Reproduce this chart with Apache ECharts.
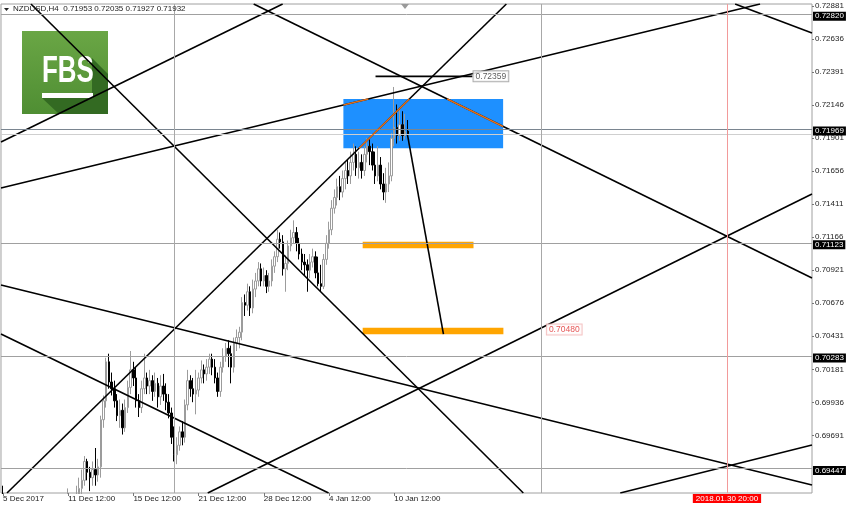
<!DOCTYPE html>
<html><head><meta charset="utf-8">
<script src="https://cdn.jsdelivr.net/npm/echarts@6/dist/echarts.min.js"></script>
<style>html,body{margin:0;padding:0;background:#fff}#c{width:850px;height:508px}</style>
</head><body><div id="c"></div>
<script>
// ---- Candles (H4 bars, index 0 = 5 Dec 2017) ----
const opens = [.6925,.6912,.6905,.6898,.6890,.6884,.6880,.6872,.6868,.6860,.6852,.6858,.6850,.6845,.6852,.6860,.6856,.6864,.6870,.6866,.6875,.6882,.6878,.6890,.6898,.6912,.6918,.6910,.6922,.6930,
.6936,.6950,.6942,.6938,.6944,.6940,.6946,.6981,.6995,.7024,.7009,.7004,.6995,.6984,.6988,.6975,.6990,.7005,.7018,.7012,.6995,.6990,.7004,.7012,.7006,.7010,.7002,.7008,.6998,.7006,
.7000,.6994,.6986,.6968,.6955,.6962,.6972,.6968,.6992,.7010,.7004,.7000,.7003,.7012,.7018,.7015,.7020,.7026,.7020,.7012,.7002,.7020,.7028,.7034,.7030,.7020,.7038,.7042,.7046,.7068,
.7066,.7076,.7064,.7078,.7084,.7093,.7084,.7088,.7080,.7084,.7095,.7102,.7115,.7113,.7093,.7097,.7110,.7116,.7120,.7112,.7104,.7098,.7096,.7092,.7098,.7102,.7090,.7082,.7080,.7100,
.7112,.7122,.7138,.7146,.7154,.7150,.7160,.7166,.7162,.7172,.7178,.7168,.7172,.7166,.7178,.7184,.7180,.7170,.7162,.7170,.7156,.7150,.7156,.7162,.7190,.7198,.7192,.7200,.7192,.71953];
const closes = [.6912,.6905,.6898,.6890,.6884,.6880,.6872,.6868,.6860,.6852,.6858,.6850,.6845,.6852,.6860,.6856,.6864,.6870,.6866,.6875,.6882,.6878,.6890,.6898,.6912,.6918,.6910,.6922,.6930,.6936,
.6950,.6942,.6938,.6944,.6940,.6946,.6981,.6995,.7024,.7009,.7004,.6995,.6984,.6988,.6975,.6990,.7005,.7018,.7012,.6995,.6990,.7004,.7012,.7006,.7010,.7002,.7008,.6998,.7006,.7000,
.6994,.6986,.6968,.6955,.6962,.6972,.6968,.6992,.7010,.7004,.7000,.7003,.7012,.7018,.7015,.7020,.7026,.7020,.7012,.7002,.7020,.7028,.7034,.7030,.7020,.7038,.7042,.7046,.7068,.7066,
.7076,.7064,.7078,.7084,.7093,.7084,.7088,.7080,.7084,.7095,.7102,.7115,.7113,.7093,.7097,.7110,.7116,.7120,.7112,.7104,.7098,.7096,.7092,.7098,.7102,.7090,.7082,.7080,.7100,.7112,
.7122,.7138,.7146,.7154,.7150,.7160,.7166,.7162,.7172,.7178,.7168,.7172,.7166,.7178,.7184,.7180,.7170,.7162,.7170,.7156,.7150,.7156,.7162,.7190,.7198,.7192,.7200,.7192,.7195,.71932];
const lows = [.6905,.6898,.6890,.6884,.6878,.6872,.6866,.6860,.6852,.6845,.6846,.6842,.6838,.6840,.6848,.6850,.6852,.6858,.6860,.6862,.6870,.6872,.6874,.6885,.6894,.6905,.6902,.6906,.6916,.6924,
.6932,.6936,.6928,.6932,.6932,.6935,.6938,.6975,.6990,.7004,.6999,.6990,.6980,.6975,.6970,.6972,.6986,.7000,.7006,.6990,.6983,.6986,.7000,.7000,.7000,.6995,.6998,.6990,.6992,.6995,
.6988,.6982,.6963,.6950,.6948,.6958,.6962,.6964,.6988,.6998,.6994,.6985,.6998,.7008,.7008,.7010,.7015,.7014,.7008,.6998,.6998,.7016,.7024,.7020,.7008,.7016,.7032,.7034,.7040,.7058,
.7062,.7058,.7060,.7072,.7080,.7080,.7080,.7075,.7076,.7080,.7090,.7098,.7108,.7088,.7076,.7092,.7106,.7112,.7106,.7100,.7092,.7088,.7076,.7086,.7094,.7086,.7080,.7076,.7078,.7096,
.7108,.7118,.7134,.7140,.7144,.7146,.7152,.7156,.7156,.7166,.7162,.7160,.7160,.7162,.7172,.7170,.7166,.7156,.7158,.7152,.7144,.7142,.7150,.7158,.7184,.7186,.7188,.7188,.7189,.71927];
const highs = [.6932,.6918,.6910,.6902,.6895,.6890,.6886,.6878,.6874,.6866,.6864,.6862,.6856,.6858,.6866,.6865,.6870,.6876,.6878,.6882,.6888,.6890,.6896,.6908,.6930,.6926,.6922,.6932,.6938,.6944,
.6954,.6952,.6946,.6950,.6960,.6952,.6984,.6999,.7027,.7030,.7016,.7010,.7000,.6996,.6993,.6996,.7010,.7032,.7024,.7020,.7000,.7010,.7030,.7016,.7018,.7014,.7016,.7012,.7014,.7015,
.7008,.7000,.6990,.6976,.6968,.6976,.6980,.6996,.7018,.7014,.7012,.7018,.7016,.7025,.7022,.7026,.7030,.7030,.7026,.7016,.7024,.7034,.7038,.7040,.7036,.7042,.7048,.7050,.7072,.7074,
.7082,.7080,.7085,.7090,.7098,.7097,.7094,.7092,.7090,.7100,.7106,.7122,.7120,.7118,.7103,.7114,.7122,.7129,.7124,.7116,.7108,.7104,.7100,.7104,.7108,.7106,.7102,.7096,.7104,.7118,
.7128,.7144,.7152,.7160,.7162,.7166,.7172,.7174,.7180,.7186,.7184,.7180,.7178,.7184,.7190,.7189,.7186,.7180,.7184,.7176,.7164,.7168,.7172,.7194,.7228,.7215,.7212,.7210,.7208,.72035];

// ---- Axes ----
const xMin = -0.74, xMax = 297.8, yMin = 0.69266, yMax = 0.72896;
const xTickIdx = [0, 24, 48, 72, 96, 120, 144];
const xTickLabels = ['5 Dec 2017', '11 Dec 12:00', '15 Dec 12:00', '21 Dec 12:00', '28 Dec 12:00', '4 Jan 12:00', '10 Jan 12:00'];
const yTicks = [0.72881, 0.72636, 0.72391, 0.72146, 0.71901, 0.71656, 0.71411, 0.71166, 0.70921, 0.70676, 0.70431, 0.70181, 0.69936, 0.69691];

// ---- Drawn objects (bar index, price) ----
const levelPrices = [0.72820, 0.71969, 0.71123, 0.70283, 0.69447];
const bidPrice = 0.71932;
const grayVerticals = [63.2, 198.2];
const redVertical = 266.5;
const redVerticalLabel = '2018.01.30 20:00';
const trendLines = [
  [[92.28, 0.72896], [297.79, 0.70862]],
  [[269.49, 0.72896], [297.79, 0.72681]],
  [[-0.74, 0.71872], [102.94, 0.72896]],
  [[-0.74, 0.71530], [278.68, 0.72896]],
  [[10.29, 0.72896], [191.54, 0.69266]],
  [[1.47, 0.69266], [185.29, 0.72896]],
  [[-0.74, 0.70446], [119.85, 0.69266]],
  [[75.37, 0.69266], [297.79, 0.71486]],
  [[-0.74, 0.70810], [297.79, 0.69325]],
  [[227.21, 0.69266], [297.79, 0.69622]]
];
const invertedLines = [0, 3, 5]; // lines shown orange inside the blue zone
const arrowLine = [[148.90, 0.71924], [162.13, 0.70446]];
const highLine = [[137.13, 0.72359], [172.79, 0.72359]];
const highLabel = [179.6, 0.72359];
const targetLabel = [206.6, 0.70480];
const blueZone = { x: [125.3, 184.1], p: [0.71825, 0.72191] };
const orangeBars = [
  { x: [132.4, 173.2], p: [0.71083, 0.71132] },
  { x: [132.4, 184.2], p: [0.70444, 0.70493] }
];

const candles = opens.map((o, i) => [i, o, closes[i], lows[i], highs[i]]);

function clipSeg(a, b, xr, yr) {
  let t0 = 0, t1 = 1;
  const dx = b[0] - a[0], dy = b[1] - a[1];
  const pq = [[-dx, a[0] - xr[0]], [dx, xr[1] - a[0]], [-dy, a[1] - yr[0]], [dy, yr[1] - a[1]]];
  for (const [p, q] of pq) {
    if (p === 0) { if (q < 0) return null; }
    else {
      const t = q / p;
      if (p < 0) { if (t > t1) return null; if (t > t0) t0 = t; }
      else { if (t < t0) return null; if (t < t1) t1 = t; }
    }
  }
  return [[a[0] + t0 * dx, a[1] + t0 * dy], [a[0] + t1 * dx, a[1] + t1 * dy]];
}

const FONT = 'Liberation Sans';
const chart = echarts.init(document.getElementById('c'), null, { renderer: 'canvas' });

const hLabel = (v) => ({ show: true, position: 'end', distance: 1, formatter: v.toFixed(5), color: '#fff', backgroundColor: '#000',
  padding: [1, 2, 0, 2], fontSize: 8, fontFamily: FONT, offset: [0, 2] });

const series = [];
series.push({
  type: 'scatter', data: [], z: 1, silent: true,
  markArea: {
    silent: true,
    data: [
      [{ coord: [blueZone.x[0], blueZone.p[1]], itemStyle: { color: '#1e90ff', opacity: 1 } }, { coord: [blueZone.x[1], blueZone.p[0]] }]
    ]
  }
});
series.push({
  type: 'scatter', data: [], z: 2, silent: true,
  markLine: {
    silent: true, symbol: ['none', 'none'], animation: false,
    data: [
      ...levelPrices.map(v => [
        { coord: [xMin, v], lineStyle: { color: v === 0.71969 ? '#7a8590' : '#a0a0a0', width: 1, type: 'solid' }, label: hLabel(v) },
        { coord: [xMax, v] }
      ]),
      [{ coord: [xMin, bidPrice], lineStyle: { color: '#cfcfcf', width: 1, type: 'solid' }, label: { show: false } }, { coord: [xMax, bidPrice] }],
      ...grayVerticals.map(v => [
        { coord: [v, yMin], lineStyle: { color: '#a8a8a8', width: 1, type: 'solid' }, label: { show: false } },
        { coord: [v, yMax] }
      ])
    ]
  }
});
series.push({
  type: 'scatter', data: [], z: 7, silent: true,
  markLine: {
    silent: true, symbol: ['none', 'none'], animation: false,
    data: [
      [{ coord: [redVertical, yMin], lineStyle: { color: '#f29a9a', width: 1, type: 'solid' },
         label: { show: true, position: 'start', distance: 1, formatter: redVerticalLabel, color: '#fff', backgroundColor: '#ff0000',
           padding: [1, 3, 0, 3], fontSize: 8, fontFamily: FONT } },
       { coord: [redVertical, yMax] }]
    ]
  }
});
series.push({
  type: 'scatter', data: [], z: 2.5, silent: true,
  markArea: {
    silent: true,
    data: orangeBars.map(b => [{ coord: [b.x[0], b.p[1]], itemStyle: { color: '#ffa500', opacity: 1 } }, { coord: [b.x[1], b.p[0]] }])
  }
});
series.push({
  type: 'candlestick', z: 3, data: candles, encode: { x: 0, y: [1, 2, 3, 4] },
  barWidth: 2, silent: true, animation: false, clip: true,
  itemStyle: { color: '#ffffff', color0: '#000000', borderColor: '#9c9c9c', borderColor0: '#000000', borderWidth: 1 }
});
trendLines.forEach(seg => series.push({
  type: 'line', z: 4, data: seg, showSymbol: false, silent: true, animation: false, clip: true,
  lineStyle: { color: '#000', width: 1.6 }
}));
series.push({ type: 'line', z: 4, data: arrowLine, showSymbol: false, silent: true, animation: false, lineStyle: { color: '#000', width: 1.6 } });
series.push({ type: 'line', z: 4, data: highLine, showSymbol: false, silent: true, animation: false, lineStyle: { color: '#000', width: 1.6 } });
invertedLines.forEach(k => {
  const s = clipSeg(trendLines[k][0], trendLines[k][1], blueZone.x, blueZone.p);
  if (s) series.push({ type: 'line', z: 5, data: s, showSymbol: false, silent: true, animation: false, lineStyle: { color: '#e2701c', width: 1.6 } });
});
series.push({
  type: 'scatter', z: 6, symbolSize: 1, silent: true, itemStyle: { color: 'rgba(0,0,0,0)' },
  data: [
    { value: highLabel, label: { show: true, position: 'inside', formatter: highLabel[1].toFixed(5), color: '#333', backgroundColor: '#fff', borderColor: '#9a9a9a', borderWidth: 1, padding: [1, 2, 0, 2], fontSize: 8.5, fontFamily: FONT } },
    { value: targetLabel, label: { show: true, position: 'inside', formatter: targetLabel[1].toFixed(5), color: '#e02828', backgroundColor: '#fff', borderColor: '#f2b4b4', borderWidth: 1, padding: [1, 2, 0, 2], fontSize: 8.5, fontFamily: FONT } }
  ]
});

const last = opens.length - 1;
const headerText = 'NZDUSD,H4  ' + [opens[last], highs[last], lows[last], closes[last]].map(v => v.toFixed(5)).join(' ');

chart.setOption({
  animation: false,
  backgroundColor: '#ffffff',
  grid: { left: 0, right: 38, top: 4, bottom: 15, show: true, borderColor: '#a0a0a0', borderWidth: 1, backgroundColor: '#fff' },
  xAxis: {
    type: 'value', min: xMin, max: xMax, z: 10,
    axisLine: { show: false, onZero: false }, splitLine: { show: false },
    axisTick: { show: true, customValues: xTickIdx, length: 3, lineStyle: { color: '#777' } },
    axisLabel: { customValues: xTickIdx, formatter: v => xTickLabels[xTickIdx.indexOf(v)], align: 'left', fontSize: 8, color: '#222', margin: 2, fontFamily: FONT }
  },
  yAxis: {
    type: 'value', position: 'right', min: yMin, max: yMax, scale: true,
    axisLine: { show: false, onZero: false }, splitLine: { show: false },
    axisTick: { show: true, customValues: yTicks, length: 2, lineStyle: { color: '#777' } },
    axisLabel: { customValues: yTicks, formatter: v => v.toFixed(5), fontSize: 8, color: '#222', margin: 3, fontFamily: FONT }
  },
  graphic: [
    { type: 'rect', shape: { x: 0, y: 494, width: 812, height: 14 }, style: { fill: '#fff' }, z: 5, silent: true },
    { type: 'polygon', shape: { points: [[401, 4], [409, 4], [405, 9]] }, style: { fill: '#9a9a9a' }, z: 100 },
    { type: 'polygon', shape: { points: [[4, 8], [9, 8], [6.5, 11]] }, style: { fill: '#222' }, z: 100 },
    { type: 'text', x: 13, y: 5, style: { text: headerText, font: '8px "Liberation Sans"', fill: '#222' }, z: 100 },
    { type: 'group', x: 22, y: 31, z: 100, children: [
      { type: 'rect', shape: { x: 0, y: 0, width: 86, height: 83 },
        style: { fill: new echarts.graphic.LinearGradient(0, 0, 0, 1, [{ offset: 0, color: '#6aa645' }, { offset: 1, color: '#4f8e33' }]) } },
      { type: 'polygon', shape: { points: [[70, 27], [86, 43], [86, 83], [37, 83], [20, 67], [70, 67]] }, style: { fill: '#336a22' } },
      { type: 'text', x: 20, y: 22, scaleX: 0.7, style: { text: 'FBS', font: 'bold 37px "Liberation Sans"', fill: '#fff', textVerticalAlign: 'top' } },
      { type: 'rect', shape: { x: 20, y: 62, width: 51, height: 5 }, style: { fill: '#fff' } }
    ] }
  ],
  series
});
</script></body></html>
